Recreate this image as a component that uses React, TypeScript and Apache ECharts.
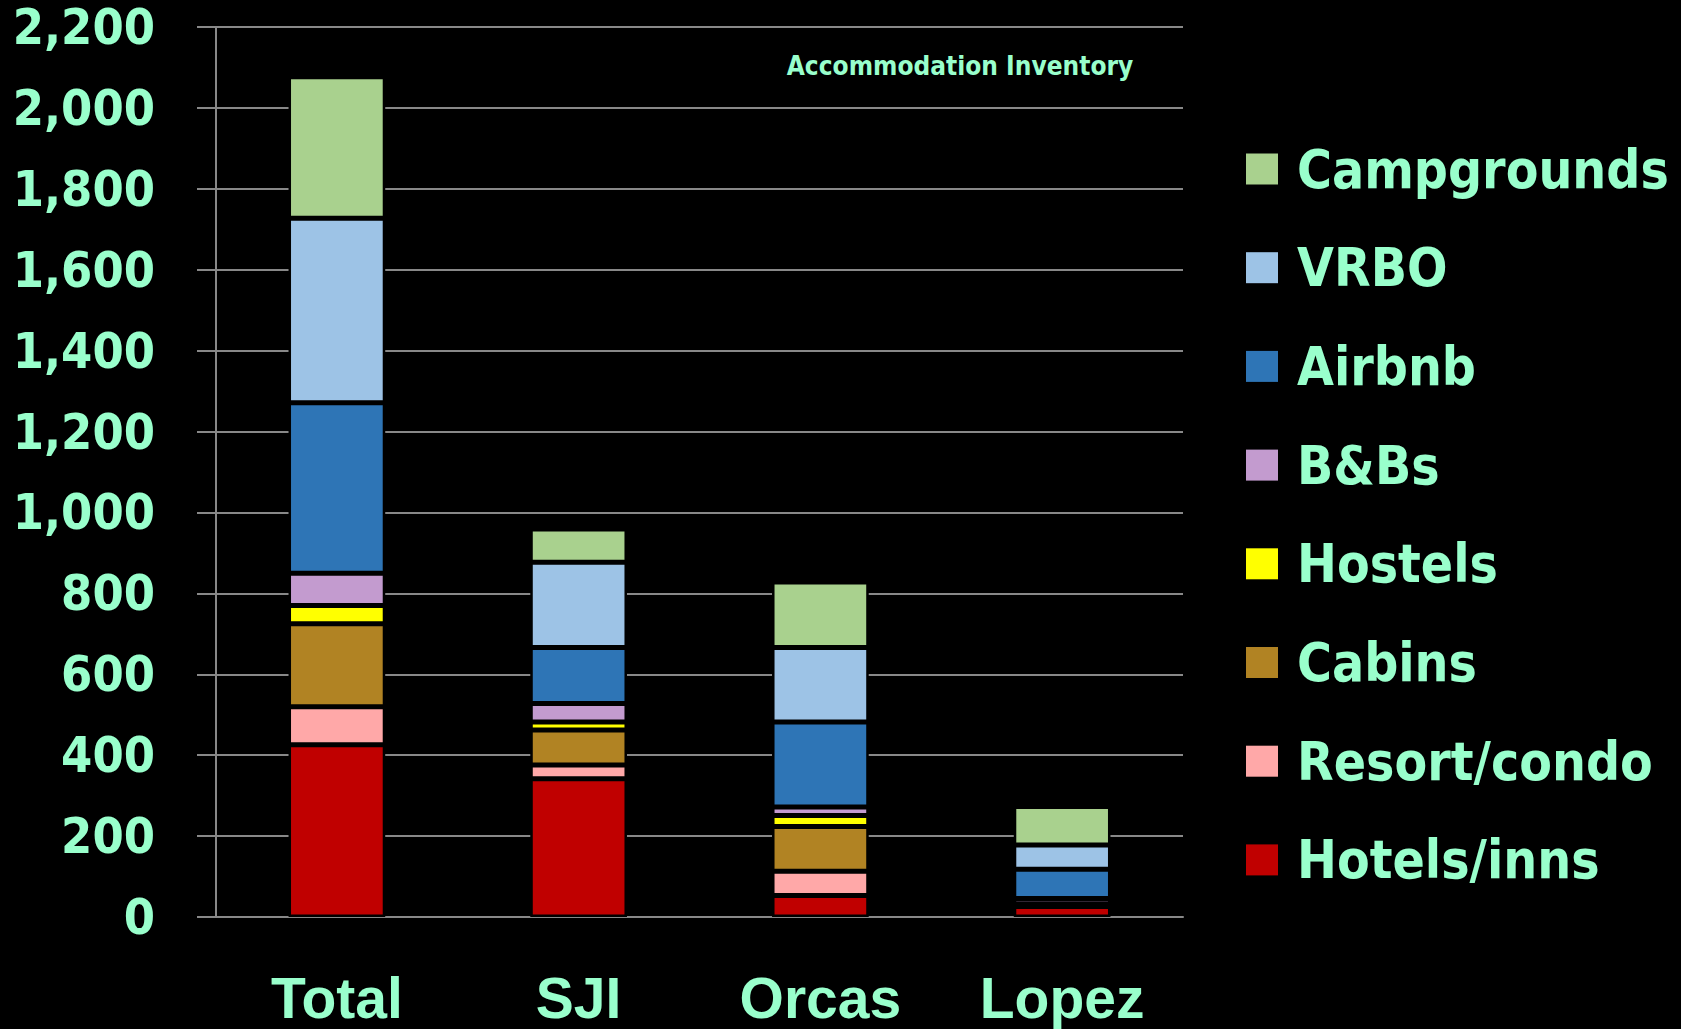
import React, { useEffect, useRef } from "react";
import * as echarts from "echarts";

const categories = ["Total", "SJI", "Orcas", "Lopez"];
const seriesNames = ["Hotels/inns", "Resort/condo", "Cabins", "Hostels", "B&Bs", "Airbnb", "VRBO", "Campgrounds"];
const hotels = [426, 342, 53, 26];
const resort = [94, 34, 60, 3];
const cabins = [205, 86, 111, 2];
const hostels = [45, 20, 27, 2];
const bnbs = [80, 46, 21, 13];
const airbnb = [421, 138, 210, 72];
const vrbo = [456, 211, 184, 60];
const campgrounds = [350, 82, 162, 95];
const yTicks = { min: 0, max: 2200, interval: 200 };
const colors = ["#C00000", "#FFA8A8", "#B18323", "#FFFF00", "#C39BCF", "#2E75B6", "#9DC3E6", "#A9D18E"];

const MINT = "#99FFCC";
const GRID = "#888888";

export default function App() {
  const ref = useRef<HTMLDivElement>(null);
  useEffect(() => {
    if (!ref.current) return;
    const chart = echarts.init(ref.current, undefined, { renderer: "svg" });
    const values = [hotels, resort, cabins, hostels, bnbs, airbnb, vrbo, campgrounds];
    chart.setOption({
      animation: false,
      backgroundColor: "#000000",
      grid: { left: 216, right: 498, top: 27, bottom: 112, containLabel: false },
      graphic: [
        {
          type: "text",
          x: 960,
          y: 66,
          style: {
            text: "Accommodation Inventory",
            fill: MINT,
            font: "bold 26px 'DejaVu Sans Condensed', 'DejaVu Sans'",
            textAlign: "center",
            textVerticalAlign: "middle",
          },
        },
      ],
      legend: {
        orient: "vertical",
        left: 1246,
        top: 139,
        padding: 0,
        itemWidth: 32,
        itemHeight: 31,
        itemGap: 38.7,
        icon: "rect",
        data: [...seriesNames].reverse(),
        itemStyle: { borderWidth: 0 },
        textStyle: {
          color: MINT,
          fontSize: 53,
          fontWeight: "bold",
          fontFamily: "'DejaVu Sans Condensed', 'DejaVu Sans'",
          lineHeight: 60,
          padding: [0, 0, 0, 14],
        },
      },
      xAxis: {
        type: "category",
        data: categories,
        axisLine: { show: true, lineStyle: { color: GRID, width: 2 } },
        axisTick: { show: false },
        axisLabel: {
          color: MINT,
          fontSize: 57,
          fontWeight: "bold",
          fontFamily: "'Liberation Sans Narrow', 'Liberation Sans'",
          lineHeight: 50,
          margin: 56,
        },
      },
      yAxis: {
        type: "value",
        min: yTicks.min,
        max: yTicks.max,
        interval: yTicks.interval,
        axisLine: { show: true, lineStyle: { color: GRID, width: 2 } },
        axisTick: { show: true, length: 19, inside: false, lineStyle: { color: GRID, width: 2 } },
        splitLine: { show: true, lineStyle: { color: GRID, width: 2 } },
        axisLabel: {
          color: MINT,
          fontSize: 50,
          fontWeight: "bold",
          fontFamily: "'DejaVu Sans Condensed', 'DejaVu Sans'",
          lineHeight: 40,
          margin: 61,
          formatter: (v: number) => v.toLocaleString("en-US"),
        },
      },
      series: seriesNames.map((name, i) => ({
        name,
        type: "bar",
        stack: "total",
        barWidth: "40%",
        data: values[i],
        itemStyle: { color: colors[i], borderColor: "#000000", borderWidth: 2.5 },
      })),
    });
    return () => chart.dispose();
  }, []);
  return (
    <div
      ref={ref}
      style={{ position: "fixed", left: 0, top: 0, width: 1681, height: 1029, background: "#000" }}
    />
  );
}
